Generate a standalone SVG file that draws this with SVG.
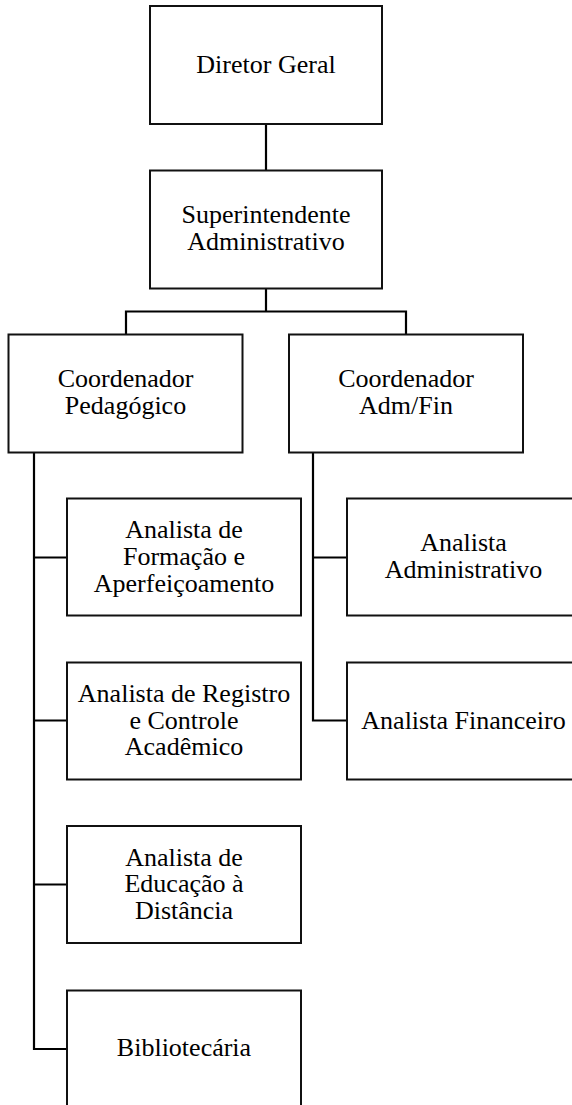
<svg xmlns="http://www.w3.org/2000/svg" width="572" height="1105" viewBox="0 0 572 1105" font-family="Liberation Serif, Times New Roman, Tinos, DejaVu Serif, serif">
<style>
.box{fill:#ffffff;stroke:#111111;stroke-width:2}
.lbl{font-size:26px;fill:#000000;text-anchor:middle}
.con{fill:none;stroke:#000000;stroke-width:2.2}
</style>
<rect width="572" height="1105" fill="#ffffff"/>
<g id="connectors">
<path class="con" d="M266,124 V170.5"/>
<path class="con" d="M266,288.5 V311.5 M126,334.5 V311.5 H406 V334.5"/>
<path class="con" d="M34,452.5 V1049 H67 M34,557.5 H67 M34,720.5 H67 M34,884.5 H67"/>
<path class="con" d="M313,452.5 V720.5 H347 M313,557.5 H347"/>
</g>
<g id="diretor">
<rect class="box" x="150" y="6" width="232" height="118"/>
<text class="lbl" x="266" y="73">Diretor Geral</text>
</g>
<g id="superintendente">
<rect class="box" x="150" y="170.5" width="232" height="118"/>
<text class="lbl" x="266" y="223">Superintendente</text>
<text class="lbl" x="266" y="249.8">Administrativo</text>
</g>
<g id="coord-pedagogico">
<rect class="box" x="8.5" y="334.5" width="234" height="118"/>
<text class="lbl" x="125.5" y="387">Coordenador</text>
<text class="lbl" x="125.5" y="413.8">Pedagógico</text>
</g>
<g id="coord-admfin">
<rect class="box" x="289" y="334.5" width="234" height="118"/>
<text class="lbl" x="406" y="387">Coordenador</text>
<text class="lbl" x="406" y="413.8">Adm/Fin</text>
</g>
<g id="analista-formacao">
<rect class="box" x="67" y="498.5" width="234" height="117"/>
<text class="lbl" x="184" y="538">Analista de</text>
<text class="lbl" x="184" y="564.8">Formação e</text>
<text class="lbl" x="184" y="591.6">Aperfeiçoamento</text>
</g>
<g id="analista-administrativo">
<rect class="box" x="347" y="498.5" width="234" height="117"/>
<text class="lbl" x="463.5" y="551.2">Analista</text>
<text class="lbl" x="463.5" y="578">Administrativo</text>
</g>
<g id="analista-registro">
<rect class="box" x="67" y="662.5" width="234" height="117"/>
<text class="lbl" x="184" y="701.8">Analista de Registro</text>
<text class="lbl" x="184" y="728.6">e Controle</text>
<text class="lbl" x="184" y="755.4">Acadêmico</text>
</g>
<g id="analista-financeiro">
<rect class="box" x="347" y="662.5" width="234" height="117"/>
<text class="lbl" x="463.5" y="728.5">Analista Financeiro</text>
</g>
<g id="analista-educacao">
<rect class="box" x="67" y="826" width="234" height="117"/>
<text class="lbl" x="184" y="865.5">Analista de</text>
<text class="lbl" x="184" y="892.3">Educação à</text>
<text class="lbl" x="184" y="919.1">Distância</text>
</g>
<g id="bibliotecaria">
<rect class="box" x="67" y="990.5" width="234" height="117"/>
<text class="lbl" x="184" y="1056">Bibliotecária</text>
</g>
</svg>
